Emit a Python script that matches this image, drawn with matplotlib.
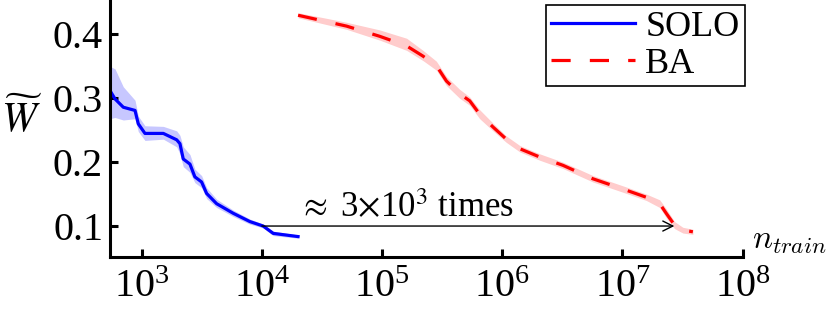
import numpy as np
import matplotlib
matplotlib.use("Agg")
import matplotlib.pyplot as plt
from matplotlib.ticker import FixedLocator, NullLocator

plt.rcParams['font.family'] = 'serif'
plt.rcParams['font.serif'] = ['Liberation Serif', 'STIXGeneral', 'DejaVu Serif']
plt.rcParams['mathtext.fontset'] = 'stix'

# SOLO series
solo_n = [545, 600, 703, 880, 937, 1065, 1514, 1955, 2081, 2217, 2520, 2770,
          3150, 3470, 4200, 5770, 7940, 10250, 12420, 20000]
solo_w = [0.312, 0.299, 0.286, 0.281, 0.260, 0.245, 0.245, 0.235, 0.229, 0.205,
          0.197, 0.177, 0.169, 0.151, 0.135, 0.120, 0.107, 0.100, 0.0885, 0.0835]
solo_hi = [0.350, 0.346, 0.318, 0.297, 0.272, 0.257, 0.256, 0.249, 0.242, 0.224,
           0.212, 0.189, 0.179, 0.160, 0.142, 0.125, 0.111, 0.103, 0.092, 0.086]
solo_lo = [0.268, 0.270, 0.266, 0.268, 0.248, 0.234, 0.236, 0.224, 0.213, 0.193,
           0.184, 0.168, 0.160, 0.143, 0.129, 0.115, 0.103, 0.097, 0.085, 0.081]

# BA series
ba_n = [2e4, 5.06e4, 9.57e4, 1.6e5, 2.19e5, 2.83e5, 3.43e5, 4.42e5, 5.36e5, 6.49e5,
        8.37e5, 1.08e6, 1.4e6, 2.05e6, 3.2e6, 5.67e6, 1.08e7, 1.58e7, 2.04e7,
        2.31e7, 2.71e7, 3.18e7, 3.85e7]
ba_w = [0.430, 0.413, 0.397, 0.382, 0.366, 0.351, 0.327, 0.307, 0.296, 0.275,
        0.255, 0.236, 0.221, 0.208, 0.195, 0.174, 0.156, 0.145, 0.135, 0.120,
        0.1015, 0.0937, 0.091]
ba_hi = [0.434, 0.419, 0.407, 0.394, 0.375, 0.358, 0.334, 0.314, 0.302, 0.282,
         0.261, 0.241, 0.226, 0.213, 0.200, 0.179, 0.161, 0.150, 0.141, 0.127,
         0.107, 0.098, 0.095]
ba_lo = [0.426, 0.408, 0.391, 0.375, 0.359, 0.344, 0.320, 0.300, 0.289, 0.268,
         0.249, 0.231, 0.216, 0.203, 0.190, 0.169, 0.151, 0.140, 0.129, 0.113,
         0.096, 0.089, 0.087]

arrow_from = 1e4
arrow_to = 2.7e7
arrow_level = 0.1

xticks = [1e3, 1e4, 1e5, 1e6, 1e7, 1e8]
yticks = [0.1, 0.2, 0.3, 0.4]
ytick_labels = ['0.1', '0.2', '0.3', '0.4']

fig = plt.figure(figsize=(8.3, 3.09), dpi=100)
ax = fig.add_axes([110/830, 1 - 256.7/309, 632.7/830, 255.5/309])

ax.fill_between(solo_n, solo_lo, solo_hi, color=(0.78, 0.78, 1.0), lw=0)
ax.fill_between(ba_n, ba_lo, ba_hi, color=(1.0, 0.80, 0.80), lw=0)
ax.plot(solo_n, solo_w, color='#0000ff', lw=2.3, label='SOLO')
ax.plot(ba_n, ba_w, color='#ff0000', lw=2.3, ls=(0, (6, 6)), label='BA')

ax.set_xscale('log')
ax.set_xlim(545, 1e8)
ax.set_ylim(0.052, 0.452)
ax.xaxis.set_major_locator(FixedLocator(xticks))
ax.xaxis.set_minor_locator(NullLocator())
ax.set_yticks(yticks)
ax.set_yticklabels(ytick_labels)

for s in ['top', 'right']:
    ax.spines[s].set_visible(False)
for s in ['left', 'bottom']:
    ax.spines[s].set_linewidth(2.2)
ax.tick_params(axis='both', which='major', direction='in', length=6, width=2.2,
               labelsize=29)
ax.tick_params(axis='x', pad=9)
ax.tick_params(axis='y', pad=5)

ax.annotate('', xy=(arrow_to, arrow_level), xytext=(arrow_from, arrow_level),
            arrowprops=dict(arrowstyle='->', lw=1.0, color='k',
                            shrinkA=0, shrinkB=0, mutation_scale=18))
ax.text(1.99e4, 0.1143, r'$\approx$ 3$\times$10$^3$ times', fontsize=25,
        ha='left', va='baseline')

ax.set_ylabel(r'$\widetilde{W}$', rotation=0, fontsize=30, ha='center', va='center')
ax.yaxis.set_label_coords(-0.139, 0.535)
ax.text(1.0147, 0.034, r'$n_{train}$', transform=ax.transAxes, fontsize=24,
        ha='left', va='baseline', math_fontfamily='cm')

leg = ax.legend(loc='upper right', bbox_to_anchor=(745/830, 1 - 5/309),
                bbox_transform=fig.transFigure, fontsize=26, frameon=True,
                fancybox=False, framealpha=1, edgecolor='black',
                handlelength=2.3, handletextpad=0.3, borderpad=0.15,
                labelspacing=0.1, borderaxespad=0)
leg.get_frame().set_linewidth(1.2)

fig.savefig('out.png', dpi=100)
